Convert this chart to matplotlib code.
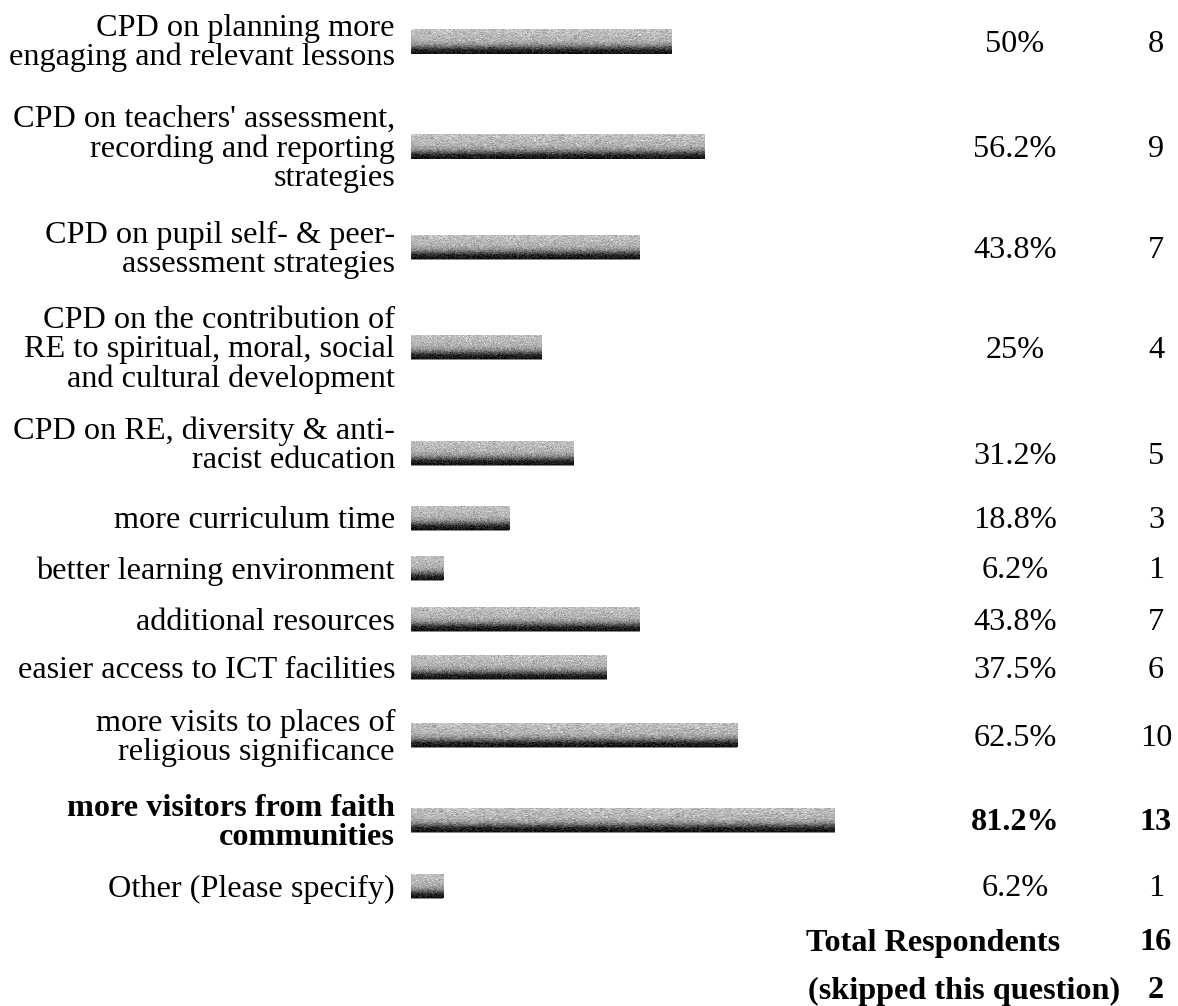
import numpy as np
import matplotlib
matplotlib.use("Agg")
import matplotlib.pyplot as plt

# ---- data ----
categories = [
    "CPD on planning more\nengaging and relevant lessons",
    "CPD on teachers' assessment,\nrecording and reporting\nstrategies",
    "CPD on pupil self- & peer-\nassessment strategies",
    "CPD on the contribution of\nRE to spiritual, moral, social\nand cultural development",
    "CPD on RE, diversity & anti-\nracist education",
    "more curriculum time",
    "better learning environment",
    "additional resources",
    "easier access to ICT facilities",
    "more visits to places of\nreligious significance",
    "more visitors from faith\ncommunities",
    "Other (Please specify)",
]
percent_labels = ["50%", "56.2%", "43.8%", "25%", "31.2%", "18.8%", "6.2%",
                  "43.8%", "37.5%", "62.5%", "81.2%", "6.2%"]
percents = [50.0, 56.2, 43.8, 25.0, 31.2, 18.8, 6.2, 43.8, 37.5, 62.5, 81.2, 6.2]
counts = [8, 9, 7, 4, 5, 3, 1, 7, 6, 10, 13, 1]
highlight = [False] * 10 + [True, False]
total_respondents = 16
skipped = 2

# ---- layout (pixel rows) ----
W, H = 1178, 1006
row_y = [41, 146, 247, 347, 453, 518, 568, 619, 667, 735, 820, 886]
label_dy = [-1, 0, 0, 0, -10, 0, 0, 0, 0, 0, 0, 0]
total_y = 940
skip_y = 988
bar_h = 25
label_x = 395
pct_x = 1015
cnt_x = 1156

plt.rcParams['font.family'] = ['Liberation Serif', 'DejaVu Serif']
FS = 23.2

fig = plt.figure(figsize=(W / 100, H / 100), dpi=100)
fig.patch.set_facecolor("white")

# bar axes: x = percent (0..100), y = pixel rows
ax = fig.add_axes([411 / W, 0, (933 - 411) / W, 1])
ax.set_xlim(0, 100)
ax.set_ylim(H, 0)
ax.axis("off")

bars = ax.barh(row_y, percents, height=bar_h, left=0, color="#888888",
               edgecolor="none")

# vertical gradient for the bars
n = 64
t = np.linspace(0, 1, n)
g = np.interp(t, [0, 0.45, 0.6, 0.72, 0.84, 1.0],
              [0.76, 0.70, 0.60, 0.40, 0.16, 0.06])
rng = np.random.default_rng(1)
grad = np.repeat(g[:, None], 200, axis=1)
grad = np.clip(grad + rng.normal(0, 0.06, grad.shape), 0, 1)
for b in bars:
    x0, y0 = b.get_x(), b.get_y()
    w, h = b.get_width(), b.get_height()
    im = ax.imshow(grad, cmap="gray", vmin=0, vmax=1, aspect="auto",
                   extent=(x0, x0 + w, y0 + h, y0), interpolation="nearest",
                   zorder=3)
    im.set_clip_path(b)
ax.set_xlim(0, 100)
ax.set_ylim(H, 0)

# text overlay in pixel coords
tx = fig.add_axes([0, 0, 1, 1], zorder=5)
tx.set_xlim(0, W)
tx.set_ylim(H, 0)
tx.axis("off")
tx.patch.set_alpha(0)

for y, dy, lab, pl, c, hl in zip(row_y, label_dy, categories, percent_labels,
                                  counts, highlight):
    fw = "bold" if hl else "normal"
    tx.text(label_x, y + 3 + dy, lab, ha="right", va="center", fontsize=FS,
            fontweight=fw, linespacing=1.0, color="black")
    tx.text(pct_x, y + 3, pl, ha="center", va="center", fontsize=FS,
            fontweight=fw, color="black")
    tx.text(cnt_x, y + 3, str(c), ha="center", va="center", fontsize=FS,
            fontweight=fw, color="black")

tx.text(1060, total_y + 3, "Total Respondents", ha="right", va="center",
        fontsize=FS, fontweight="bold")
tx.text(cnt_x, total_y + 3, str(total_respondents), ha="center", va="center",
        fontsize=FS, fontweight="bold")
tx.text(1120, skip_y + 3, "(skipped this question)", ha="right", va="center",
        fontsize=FS, fontweight="bold")
tx.text(cnt_x, skip_y + 3, str(skipped), ha="center", va="center",
        fontsize=FS, fontweight="bold")

fig.savefig("out.png", dpi=100, facecolor="white")
